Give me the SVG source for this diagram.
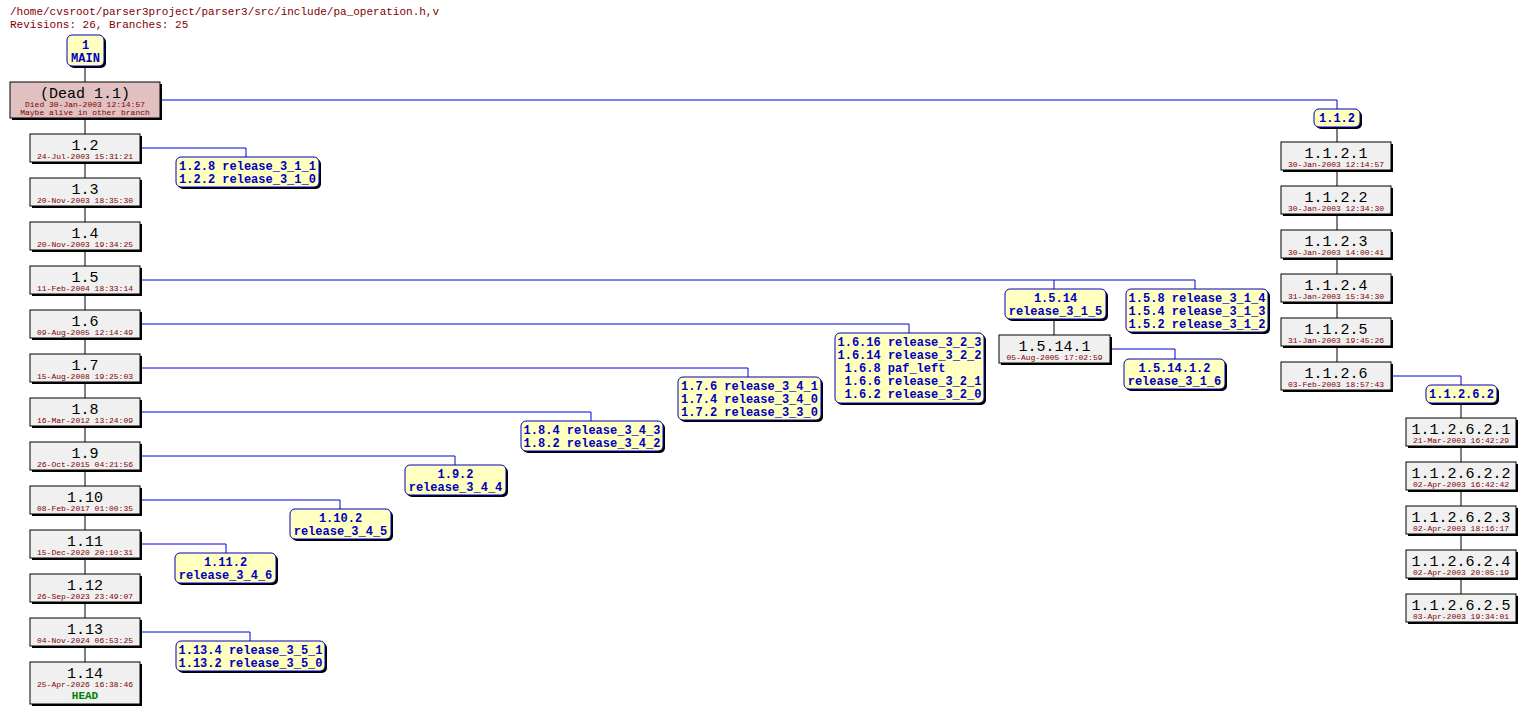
<svg xmlns="http://www.w3.org/2000/svg" width="1526" height="715" viewBox="0 0 1526 715">
<style>
text{font-family:"Liberation Mono","DejaVu Sans Mono",monospace;text-anchor:middle}
.h{text-anchor:start;font-size:11px;fill:#800000}
.r{fill:#f0f0f0;stroke:#000;stroke-width:1}
.sh{fill:#000}
.t{fill:#ffffc0;stroke:#0000c0;stroke-width:1}
.n{font-size:15px;fill:#000}
.d{font-size:8px;fill:#800000}
.b{font-size:12px;font-weight:bold;fill:#0000c0}
.c{fill:none;stroke:#0000e0;stroke-width:1}
.k{fill:none;stroke:#000;stroke-width:1}
</style>
<rect width="1526" height="715" fill="#fff"/>
<text class="h" x="10" y="15">/home/cvsroot/parser3project/parser3/src/include/pa_operation.h,v</text>
<text class="h" x="10" y="28">Revisions: 26, Branches: 25</text>
<g id="connectors">
<path class="k" d="M85 66V82M85 118V662M1337 127V142M1337 170V362M1461 403V418M1461 446V594M1054 319V335"/>
<path class="c" d="M160 100H1337V109M140 148H246V157M140 280H1195V289M1054 280V289M140 324H909V333M140 368H748V377M140 412H591V421M140 456H455V465M140 500H340V509M140 544H226V553M140 632H250V641M1391 376H1461V385M1110 349H1175V359"/>
</g>
<g id="main"><rect class="sh" x="69" y="37" width="37" height="31" rx="5"/><rect class="t" x="67" y="35" width="37" height="31" rx="5"/><text class="b" x="85.5" y="49">1</text><text class="b" x="85.5" y="62">MAIN</text></g>
<g id="dead"><rect class="sh" x="12" y="84" width="150" height="36"/><rect x="10" y="82" width="150" height="36" fill="#e0c0c0" stroke="#000"/><text class="n" x="85" y="98">(Dead 1.1)</text><text class="d" x="85" y="107">Died 30-Jan-2003 12:14:57</text><text class="d" x="85" y="115">Maybe alive in other branch</text></g>
<g id="r1.2"><rect class="sh" x="32" y="136" width="110" height="28"/><rect class="r" x="30" y="134" width="110" height="28"/><text class="n" x="85" y="150">1.2</text><text class="d" x="85" y="159">24-Jul-2003 15:31:21</text></g>
<g id="r1.3"><rect class="sh" x="32" y="180" width="110" height="28"/><rect class="r" x="30" y="178" width="110" height="28"/><text class="n" x="85" y="194">1.3</text><text class="d" x="85" y="203">20-Nov-2003 18:35:30</text></g>
<g id="r1.4"><rect class="sh" x="32" y="224" width="110" height="28"/><rect class="r" x="30" y="222" width="110" height="28"/><text class="n" x="85" y="238">1.4</text><text class="d" x="85" y="247">20-Nov-2003 19:34:25</text></g>
<g id="r1.5"><rect class="sh" x="32" y="268" width="110" height="28"/><rect class="r" x="30" y="266" width="110" height="28"/><text class="n" x="85" y="282">1.5</text><text class="d" x="85" y="291">11-Feb-2004 18:33:14</text></g>
<g id="r1.6"><rect class="sh" x="32" y="312" width="110" height="28"/><rect class="r" x="30" y="310" width="110" height="28"/><text class="n" x="85" y="326">1.6</text><text class="d" x="85" y="335">09-Aug-2005 12:14:49</text></g>
<g id="r1.7"><rect class="sh" x="32" y="356" width="110" height="28"/><rect class="r" x="30" y="354" width="110" height="28"/><text class="n" x="85" y="370">1.7</text><text class="d" x="85" y="379">15-Aug-2008 19:25:03</text></g>
<g id="r1.8"><rect class="sh" x="32" y="400" width="110" height="28"/><rect class="r" x="30" y="398" width="110" height="28"/><text class="n" x="85" y="414">1.8</text><text class="d" x="85" y="423">16-Mar-2012 13:24:09</text></g>
<g id="r1.9"><rect class="sh" x="32" y="444" width="110" height="28"/><rect class="r" x="30" y="442" width="110" height="28"/><text class="n" x="85" y="458">1.9</text><text class="d" x="85" y="467">26-Oct-2015 04:21:56</text></g>
<g id="r1.10"><rect class="sh" x="32" y="488" width="110" height="28"/><rect class="r" x="30" y="486" width="110" height="28"/><text class="n" x="85" y="502">1.10</text><text class="d" x="85" y="511">08-Feb-2017 01:00:35</text></g>
<g id="r1.11"><rect class="sh" x="32" y="532" width="110" height="28"/><rect class="r" x="30" y="530" width="110" height="28"/><text class="n" x="85" y="546">1.11</text><text class="d" x="85" y="555">15-Dec-2020 20:10:31</text></g>
<g id="r1.12"><rect class="sh" x="32" y="576" width="110" height="28"/><rect class="r" x="30" y="574" width="110" height="28"/><text class="n" x="85" y="590">1.12</text><text class="d" x="85" y="599">26-Sep-2023 23:49:07</text></g>
<g id="r1.13"><rect class="sh" x="32" y="620" width="110" height="28"/><rect class="r" x="30" y="618" width="110" height="28"/><text class="n" x="85" y="634">1.13</text><text class="d" x="85" y="643">04-Nov-2024 06:53:25</text></g>
<g id="r1.14"><rect class="sh" x="32" y="664" width="110" height="42"/><rect class="r" x="30" y="662" width="110" height="42"/><text class="n" x="85" y="678">1.14</text><text class="d" x="85" y="687">25-Apr-2026 16:38:46</text><text class="b" x="85" y="699" style="fill:#008000;font-size:11px">HEAD</text></g>
<g id="t1.2"><rect class="sh" x="178" y="159" width="143" height="30" rx="5"/><rect class="t" x="176" y="157" width="143" height="30" rx="5"/><text class="b" x="247.5" y="170">1.2.8 release_3_1_1</text><text class="b" x="247.5" y="183">1.2.2 release_3_1_0</text></g>
<g id="t1.5a"><rect class="sh" x="1007" y="291" width="101" height="30" rx="5"/><rect class="t" x="1005" y="289" width="101" height="30" rx="5"/><text class="b" x="1055.5" y="302">1.5.14</text><text class="b" x="1055.5" y="315">release_3_1_5</text></g>
<g id="t1.5b"><rect class="sh" x="1128" y="291" width="142" height="43" rx="5"/><rect class="t" x="1126" y="289" width="142" height="43" rx="5"/><text class="b" x="1197" y="302">1.5.8 release_3_1_4</text><text class="b" x="1197" y="315">1.5.4 release_3_1_3</text><text class="b" x="1197" y="328">1.5.2 release_3_1_2</text></g>
<g id="r1.5.14.1"><rect class="sh" x="1001" y="337" width="111" height="28"/><rect class="r" x="999" y="335" width="111" height="28"/><text class="n" x="1054.5" y="351">1.5.14.1</text><text class="d" x="1054.5" y="360">05-Aug-2005 17:02:59</text></g>
<g id="t1.5.14.1"><rect class="sh" x="1126" y="361" width="101" height="30" rx="5"/><rect class="t" x="1124" y="359" width="101" height="30" rx="5"/><text class="b" x="1174.5" y="372">1.5.14.1.2</text><text class="b" x="1174.5" y="385">release_3_1_6</text></g>
<g id="t1.6"><rect class="sh" x="837" y="335" width="149" height="70" rx="5"/><rect class="t" x="835" y="333" width="149" height="70" rx="5"/><text class="b" x="909.5" y="346">1.6.16 release_3_2_3</text><text class="b" x="909.5" y="359">1.6.14 release_3_2_2</text><text class="b" x="895" y="372">1.6.8 paf_left</text><text class="b" x="913" y="385">1.6.6 release_3_2_1</text><text class="b" x="913" y="398">1.6.2 release_3_2_0</text></g>
<g id="t1.7"><rect class="sh" x="680" y="379" width="143" height="43" rx="5"/><rect class="t" x="678" y="377" width="143" height="43" rx="5"/><text class="b" x="749.5" y="390">1.7.6 release_3_4_1</text><text class="b" x="749.5" y="403">1.7.4 release_3_4_0</text><text class="b" x="749.5" y="416">1.7.2 release_3_3_0</text></g>
<g id="t1.8"><rect class="sh" x="523" y="423" width="142" height="30" rx="5"/><rect class="t" x="521" y="421" width="142" height="30" rx="5"/><text class="b" x="592" y="434">1.8.4 release_3_4_3</text><text class="b" x="592" y="447">1.8.2 release_3_4_2</text></g>
<g id="t1.9"><rect class="sh" x="407" y="467" width="101" height="30" rx="5"/><rect class="t" x="405" y="465" width="101" height="30" rx="5"/><text class="b" x="455.5" y="478">1.9.2</text><text class="b" x="455.5" y="491">release_3_4_4</text></g>
<g id="t1.10"><rect class="sh" x="292" y="511" width="101" height="30" rx="5"/><rect class="t" x="290" y="509" width="101" height="30" rx="5"/><text class="b" x="340.5" y="522">1.10.2</text><text class="b" x="340.5" y="535">release_3_4_5</text></g>
<g id="t1.11"><rect class="sh" x="177" y="555" width="101" height="30" rx="5"/><rect class="t" x="175" y="553" width="101" height="30" rx="5"/><text class="b" x="225.5" y="566">1.11.2</text><text class="b" x="225.5" y="579">release_3_4_6</text></g>
<g id="t1.13"><rect class="sh" x="178" y="643" width="149" height="30" rx="5"/><rect class="t" x="176" y="641" width="149" height="30" rx="5"/><text class="b" x="250.5" y="654">1.13.4 release_3_5_1</text><text class="b" x="250.5" y="667">1.13.2 release_3_5_0</text></g>
<g id="b1.1.2"><rect class="sh" x="1316" y="111" width="46" height="18" rx="5"/><rect class="t" x="1314" y="109" width="46" height="18" rx="5"/><text class="b" x="1337" y="122">1.1.2</text></g>
<g id="r1.1.2.1"><rect class="sh" x="1283" y="144" width="110" height="28"/><rect class="r" x="1281" y="142" width="110" height="28"/><text class="n" x="1336" y="158">1.1.2.1</text><text class="d" x="1336" y="167">30-Jan-2003 12:14:57</text></g>
<g id="r1.1.2.2"><rect class="sh" x="1283" y="188" width="110" height="28"/><rect class="r" x="1281" y="186" width="110" height="28"/><text class="n" x="1336" y="202">1.1.2.2</text><text class="d" x="1336" y="211">30-Jan-2003 12:34:30</text></g>
<g id="r1.1.2.3"><rect class="sh" x="1283" y="232" width="110" height="28"/><rect class="r" x="1281" y="230" width="110" height="28"/><text class="n" x="1336" y="246">1.1.2.3</text><text class="d" x="1336" y="255">30-Jan-2003 14:00:41</text></g>
<g id="r1.1.2.4"><rect class="sh" x="1283" y="276" width="110" height="28"/><rect class="r" x="1281" y="274" width="110" height="28"/><text class="n" x="1336" y="290">1.1.2.4</text><text class="d" x="1336" y="299">31-Jan-2003 15:34:30</text></g>
<g id="r1.1.2.5"><rect class="sh" x="1283" y="320" width="110" height="28"/><rect class="r" x="1281" y="318" width="110" height="28"/><text class="n" x="1336" y="334">1.1.2.5</text><text class="d" x="1336" y="343">31-Jan-2003 19:45:26</text></g>
<g id="r1.1.2.6"><rect class="sh" x="1283" y="364" width="110" height="28"/><rect class="r" x="1281" y="362" width="110" height="28"/><text class="n" x="1336" y="378">1.1.2.6</text><text class="d" x="1336" y="387">03-Feb-2003 18:57:43</text></g>
<g id="b1.1.2.6.2"><rect class="sh" x="1428" y="387" width="71" height="18" rx="5"/><rect class="t" x="1426" y="385" width="71" height="18" rx="5"/><text class="b" x="1461.5" y="398">1.1.2.6.2</text></g>
<g id="r1.1.2.6.2.1"><rect class="sh" x="1408" y="420" width="110" height="28"/><rect class="r" x="1406" y="418" width="110" height="28"/><text class="n" x="1461" y="434">1.1.2.6.2.1</text><text class="d" x="1461" y="443">21-Mar-2003 16:42:29</text></g>
<g id="r1.1.2.6.2.2"><rect class="sh" x="1408" y="464" width="110" height="28"/><rect class="r" x="1406" y="462" width="110" height="28"/><text class="n" x="1461" y="478">1.1.2.6.2.2</text><text class="d" x="1461" y="487">02-Apr-2003 16:42:42</text></g>
<g id="r1.1.2.6.2.3"><rect class="sh" x="1408" y="508" width="110" height="28"/><rect class="r" x="1406" y="506" width="110" height="28"/><text class="n" x="1461" y="522">1.1.2.6.2.3</text><text class="d" x="1461" y="531">02-Apr-2003 18:16:17</text></g>
<g id="r1.1.2.6.2.4"><rect class="sh" x="1408" y="552" width="110" height="28"/><rect class="r" x="1406" y="550" width="110" height="28"/><text class="n" x="1461" y="566">1.1.2.6.2.4</text><text class="d" x="1461" y="575">02-Apr-2003 20:05:19</text></g>
<g id="r1.1.2.6.2.5"><rect class="sh" x="1408" y="596" width="110" height="28"/><rect class="r" x="1406" y="594" width="110" height="28"/><text class="n" x="1461" y="610">1.1.2.6.2.5</text><text class="d" x="1461" y="619">03-Apr-2003 19:34:01</text></g>
</svg>
